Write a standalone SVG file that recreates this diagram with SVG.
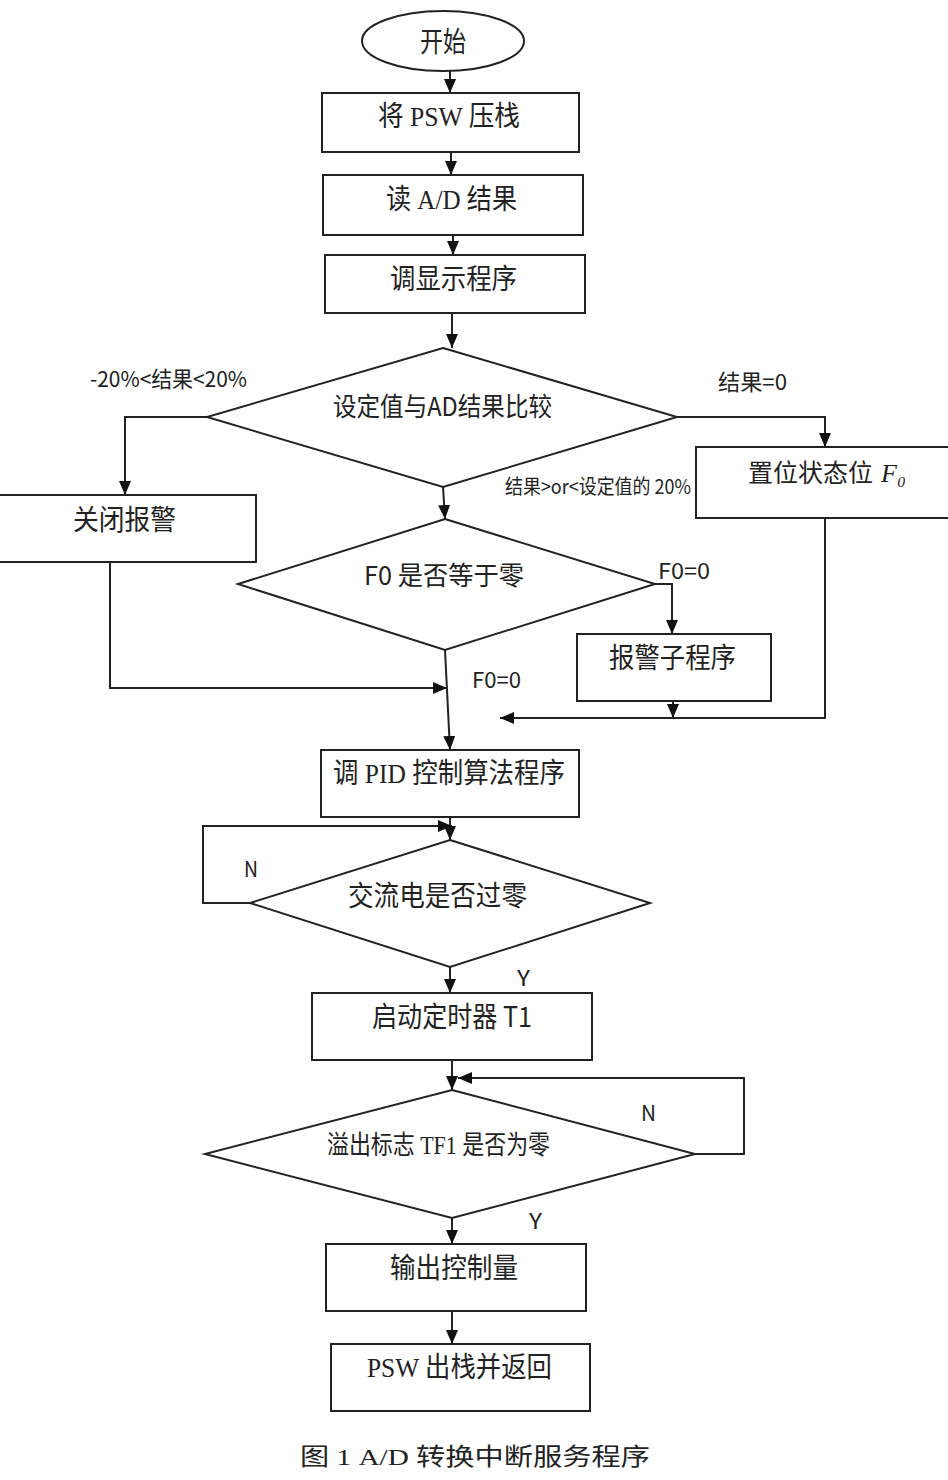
<svg xmlns="http://www.w3.org/2000/svg" width="948" height="1480" viewBox="0 0 948 1480">
<style>
.n{fill:#fff;stroke:#222;stroke-width:2}
.t{font-family:"Noto Sans CJK SC","Liberation Sans",sans-serif;font-size:28px;fill:#222}
.ts{font-family:"Liberation Serif","Noto Sans CJK SC",serif;font-size:28px;fill:#222}
.l{font-family:"Noto Sans CJK SC","Liberation Sans",sans-serif;font-size:22px;fill:#222}
.c{fill:none;stroke:#222;stroke-width:2}
</style>
<defs>
<marker id="a" markerUnits="userSpaceOnUse" markerWidth="14" markerHeight="12" refX="14" refY="6" orient="auto">
<path d="M0,0 L14,6 L0,12 z" fill="#111"/>
</marker>
</defs>
<rect width="948" height="1480" fill="#fff"/>
<g id="connectors">
<path class="c" d="M450,71 L450,93" marker-end="url(#a)"/>
<path class="c" d="M451,152 L451,175" marker-end="url(#a)"/>
<path class="c" d="M453,235 L453,255" marker-end="url(#a)"/>
<path class="c" d="M452,313 L452,348" marker-end="url(#a)"/>
<path class="c" d="M207,417 L125,417 L125,495" marker-end="url(#a)"/>
<path class="c" d="M677,417 L825,417 L825,447" marker-end="url(#a)"/>
<path class="c" d="M443,487 L445,519" marker-end="url(#a)"/>
<path class="c" d="M655,584 L672,584 L672,634" marker-end="url(#a)"/>
<path class="c" d="M110,562 L110,688 L447,688" marker-end="url(#a)"/>
<path class="c" d="M445,650 L450,750" marker-end="url(#a)"/>
<path class="c" d="M673,701 L673,718" marker-end="url(#a)"/>
<path class="c" d="M825,518 L825,718 L500,718" marker-end="url(#a)"/>
<path class="c" d="M450,817 L450,840" marker-end="url(#a)"/>
<path class="c" d="M250,903 L203,903 L203,826 L452,826" marker-end="url(#a)"/>
<path class="c" d="M450,967 L450,993" marker-end="url(#a)"/>
<path class="c" d="M452,1060 L452,1090" marker-end="url(#a)"/>
<path class="c" d="M695,1154 L744,1154 L744,1078 L458,1078" marker-end="url(#a)"/>
<path class="c" d="M452,1218 L452,1244" marker-end="url(#a)"/>
<path class="c" d="M452,1311 L452,1344" marker-end="url(#a)"/>
</g>
<g id="labels">
<text class="l" x="90" y="387" textLength="157" lengthAdjust="spacingAndGlyphs">-20%&lt;结果&lt;20%</text>
<text class="l" x="718" y="390" textLength="69" lengthAdjust="spacingAndGlyphs">结果=0</text>
<text class="l" x="505" y="494" style="font-size:20px" textLength="186" lengthAdjust="spacingAndGlyphs">结果&gt;or&lt;设定值的 20%</text>
<text class="l" x="658" y="579" textLength="52" lengthAdjust="spacingAndGlyphs">F0=0</text>
<text class="l" x="472" y="688" textLength="49" lengthAdjust="spacingAndGlyphs">F0=0</text>
<text class="l" x="244" y="877" textLength="14" lengthAdjust="spacingAndGlyphs">N</text>
<text class="l" x="517" y="986" textLength="13" lengthAdjust="spacingAndGlyphs">Y</text>
<text class="l" x="641" y="1121" textLength="15" lengthAdjust="spacingAndGlyphs">N</text>
<text class="l" x="529" y="1229" textLength="13" lengthAdjust="spacingAndGlyphs">Y</text>
</g>
<g id="start"><ellipse class="n" cx="443" cy="41" rx="81" ry="30"/><text class="t" x="420" y="52" textLength="46" lengthAdjust="spacingAndGlyphs">开始</text></g>
<g id="push"><rect class="n" x="322" y="93" width="257" height="59"/><text class="ts" x="378" y="126" textLength="142" lengthAdjust="spacingAndGlyphs">将 PSW 压栈</text></g>
<g id="read"><rect class="n" x="323" y="175" width="260" height="60"/><text class="ts" x="386" y="209" textLength="131" lengthAdjust="spacingAndGlyphs">读 A/D 结果</text></g>
<g id="display"><rect class="n" x="325" y="255" width="260" height="58"/><text class="t" x="390" y="289" textLength="127" lengthAdjust="spacingAndGlyphs">调显示程序</text></g>
<g id="compare"><polygon class="n" points="443,348 677,417 443,487 207,417"/><text class="t" x="333" y="416" style="font-size:26px" textLength="219" lengthAdjust="spacingAndGlyphs">设定值与AD结果比较</text></g>
<g id="alarmoff"><rect class="n" x="-2" y="495" width="258" height="67"/><text class="t" x="73" y="530" textLength="103" lengthAdjust="spacingAndGlyphs">关闭报警</text></g>
<g id="setf0"><rect class="n" x="696" y="447" width="253" height="71"/><text class="t" x="748" y="482" style="font-size:25px">置位状态位</text><text x="881" y="482" font-family="Liberation Serif, DejaVu Serif, serif" font-style="italic" font-size="26" fill="#222">F₀</text></g>
<g id="f0zero"><polygon class="n" points="445,519 655,584 445,650 238,584"/><text class="t" x="364" y="585" style="font-size:26px" textLength="160" lengthAdjust="spacingAndGlyphs">F0 是否等于零</text></g>
<g id="alarm"><rect class="n" x="577" y="634" width="194" height="67"/><text class="t" x="609" y="668" textLength="127" lengthAdjust="spacingAndGlyphs">报警子程序</text></g>
<g id="pid"><rect class="n" x="321" y="750" width="258" height="67"/><text class="ts" x="333" y="783" textLength="232" lengthAdjust="spacingAndGlyphs">调 PID 控制算法程序</text></g>
<g id="zerocross"><polygon class="n" points="450,840 650,903 450,967 250,903"/><text class="t" x="348" y="906" textLength="179" lengthAdjust="spacingAndGlyphs">交流电是否过零</text></g>
<g id="timer"><rect class="n" x="312" y="993" width="280" height="67"/><text class="t" x="372" y="1027" textLength="160" lengthAdjust="spacingAndGlyphs">启动定时器 T1</text></g>
<g id="overflow"><polygon class="n" points="452,1090 695,1154 452,1218 205,1154"/><text class="ts" x="327" y="1154" style="font-size:26px" textLength="223" lengthAdjust="spacingAndGlyphs">溢出标志 TF1 是否为零</text></g>
<g id="output"><rect class="n" x="326" y="1244" width="260" height="67"/><text class="t" x="390" y="1278" textLength="128" lengthAdjust="spacingAndGlyphs">输出控制量</text></g>
<g id="pop"><rect class="n" x="331" y="1344" width="259" height="67"/><text class="ts" x="367" y="1377" textLength="185" lengthAdjust="spacingAndGlyphs">PSW 出栈并返回</text></g>
<text x="300" y="1465" font-family="Liberation Serif, Noto Sans CJK SC, serif" font-size="24" fill="#222" textLength="350" lengthAdjust="spacingAndGlyphs">图 1 A/D 转换中断服务程序</text>
</svg>
